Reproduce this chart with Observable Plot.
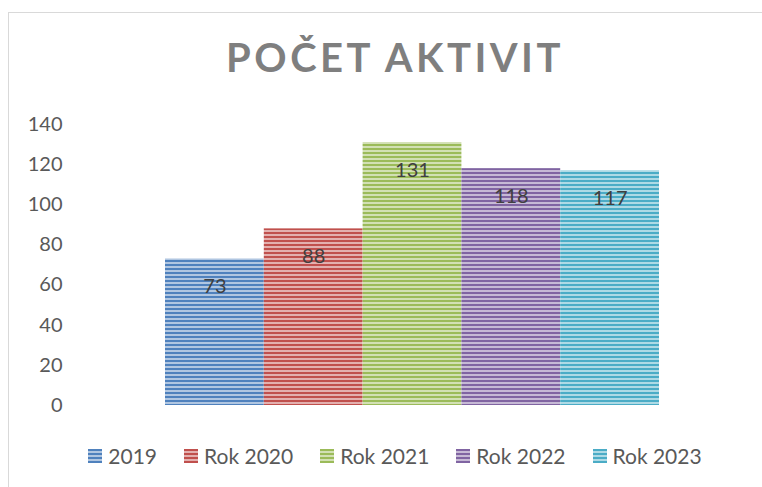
<!DOCTYPE html>
<html>
<head>
<meta charset="utf-8">
<script src="https://cdn.jsdelivr.net/npm/d3@7"></script>
<script src="https://cdn.jsdelivr.net/npm/@observablehq/plot@0.6"></script>
<style>
  html, body { margin: 0; padding: 0; background: #fff; width: 762px; height: 487px; overflow: hidden; position: relative; font-family: Lato, "Open Sans", sans-serif; }
  #frame { position: absolute; left: 8px; top: 12px; width: 800px; height: 520px; border: 1.5px solid #d9d9d9; box-sizing: border-box; }
  #title { position: absolute; left: 0; width: 790px; top: 37px; text-align: center; font-size: 40px; line-height: 40px; font-weight: 700; letter-spacing: 3.5px; color: #7f7f7f; }
  #chart { position: absolute; left: 0; top: 100px; }
  #legend { position: absolute; left: 0; width: 790px; top: 443px; display: flex; justify-content: center; gap: 27px; font-size: 21px; line-height: 26px; color: #595959; }
  .item { display: flex; align-items: center; gap: 6px; }
  .sw { width: 14px; height: 14px; display: block; }
</style>
</head>
<body>
<div id="frame"></div>
<div id="title">POČET AKTIVIT</div>
<div id="chart"></div>
<div id="legend"></div>
<script>
const series = ["2019", "Rok 2020", "Rok 2021", "Rok 2022", "Rok 2023"];
const values = [73, 88, 131, 118, 117];
const colors = ["#4F81BD", "#C0504D", "#9BBB59", "#8064A2", "#4BACC6"];
const yTicks = [0, 20, 40, 60, 80, 100, 120, 140];

const data = series.map((s, i) => ({series: s, value: values[i]}));
const patIds = series.map((s, i) => `pat${i}`);

const chart = Plot.plot({
  width: 762,
  height: 320,
  marginTop: 24,
  marginBottom: 15,
  marginLeft: 64,
  marginRight: 0,
  style: {fontFamily: "Lato, sans-serif", fontSize: "20px", color: "#595959", background: "transparent"},
  x: {domain: series, range: [165, 659], padding: 0, round: false, axis: null},
  y: {domain: [0, 140], ticks: yTicks, tickSize: 0, tickPadding: 2, label: null},
  color: {domain: series, range: patIds.map(id => `url(#${id})`)},
  marks: [
    Plot.barY(data, {x: "series", y: "value", fill: "series", inset: 0}),
    Plot.text(data, {x: "series", y: "value", text: d => String(d.value), dy: 28, fill: "#404040", fontSize: 20})
  ]
});

// pattern definitions (narrow horizontal lines)
const svg = d3.select(chart);
const defs = svg.insert("defs", ":first-child");
colors.forEach((c, i) => {
  const tint = d3.interpolateRgb(c, "#ffffff")(0.55);
  const p = defs.append("pattern").attr("id", patIds[i]).attr("patternUnits", "userSpaceOnUse")
    .attr("width", 8).attr("height", 4);
  p.append("rect").attr("width", 8).attr("height", 4).attr("fill", tint);
  p.append("rect").attr("width", 8).attr("height", 2).attr("fill", c);
});
document.getElementById("chart").appendChild(chart);

// legend
const legend = d3.select("#legend");
series.forEach((s, i) => {
  const it = legend.append("div").attr("class", "item");
  const sw = it.append("svg").attr("class", "sw").attr("width", 14).attr("height", 14);
  sw.append("rect").attr("width", 14).attr("height", 14).attr("fill", `url(#${patIds[i]})`);
  it.append("span").text(s);
});
</script>
</body>
</html>
